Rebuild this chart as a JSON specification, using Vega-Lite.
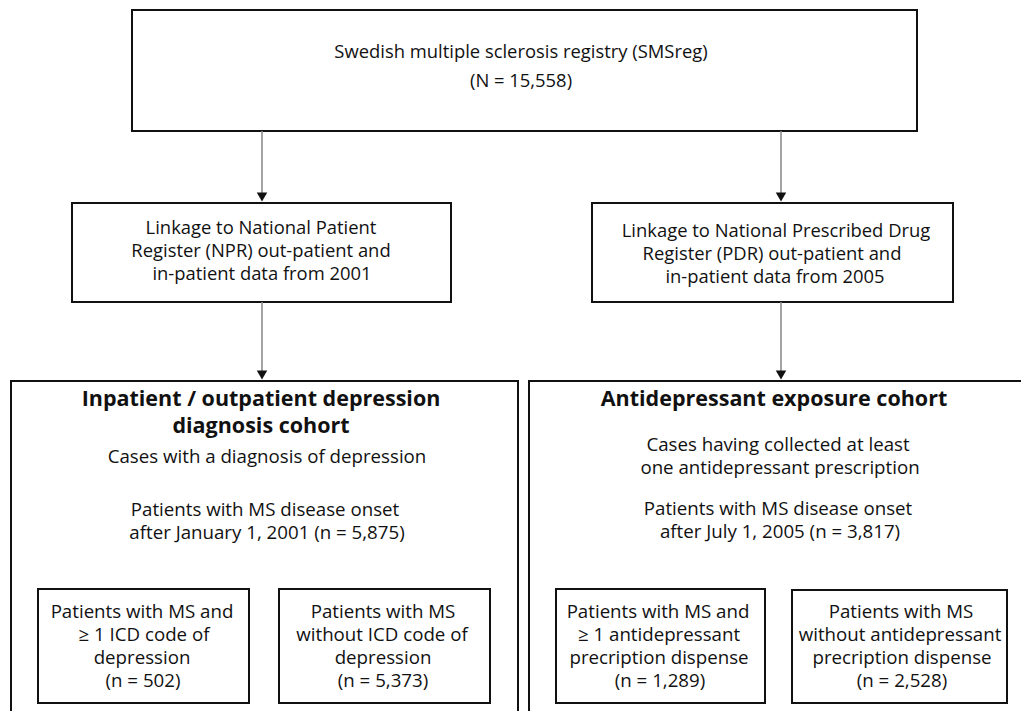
{
  "$schema": "https://vega.github.io/schema/vega-lite/v6.json",
  "autosize": {"type": "fit", "contains": "padding"},
  "width": 1021,
  "height": 711,
  "padding": 0,
  "background": "white",
  "config": {"view": {"stroke": null}, "font": "Open Sans"},
  "datasets": {
    "boxes": [
      {"id": "top", "x1": 132, "x2": 917, "y1": 10, "y2": 131},
      {"id": "npr", "x1": 72, "x2": 451, "y1": 203, "y2": 302},
      {"id": "pdr", "x1": 592, "x2": 953, "y1": 203, "y2": 302},
      {"id": "dep", "x1": 11, "x2": 518, "y1": 381, "y2": 730},
      {"id": "ad", "x1": 529, "x2": 1040, "y1": 381, "y2": 730},
      {"id": "s1", "x1": 38, "x2": 249, "y1": 589, "y2": 703},
      {"id": "s2", "x1": 279, "x2": 490, "y1": 589, "y2": 703},
      {"id": "s3", "x1": 556, "x2": 765, "y1": 589, "y2": 703},
      {"id": "s4", "x1": 792, "x2": 1007, "y1": 590, "y2": 703}
    ],
    "arrows": [
      {"x": 262, "y1": 131, "y2": 196, "tip": 197},
      {"x": 781, "y1": 131, "y2": 196, "tip": 197},
      {"x": 262, "y1": 302, "y2": 374, "tip": 375},
      {"x": 781, "y1": 302, "y2": 374, "tip": 375}
    ],
    "lines": [
      {"x": 521, "y": 52, "t": "Swedish multiple sclerosis registry (SMSreg)", "w": "small"},
      {"x": 521, "y": 81, "t": "(N = 15,558)", "w": "small"},
      {"x": 261, "y": 228, "t": "Linkage to National Patient", "w": "small"},
      {"x": 261, "y": 251, "t": "Register (NPR) out-patient and", "w": "small"},
      {"x": 262, "y": 274, "t": "in-patient data from 2001", "w": "small"},
      {"x": 776, "y": 231, "t": "Linkage to National Prescribed Drug", "w": "small"},
      {"x": 772, "y": 254, "t": "Register (PDR) out-patient and", "w": "small"},
      {"x": 775, "y": 277, "t": "in-patient data from 2005", "w": "small"},
      {"x": 261, "y": 400, "t": "Inpatient / outpatient depression", "w": "bold"},
      {"x": 261, "y": 427, "t": "diagnosis cohort", "w": "bold"},
      {"x": 267, "y": 457, "t": "Cases with a diagnosis of depression", "w": "normal"},
      {"x": 265, "y": 510, "t": "Patients with MS disease onset", "w": "normal"},
      {"x": 267, "y": 533, "t": "after January 1, 2001 (n = 5,875)", "w": "normal"},
      {"x": 774, "y": 400, "t": "Antidepressant exposure cohort", "w": "bold"},
      {"x": 778, "y": 445, "t": "Cases having collected at least", "w": "normal"},
      {"x": 780, "y": 468, "t": "one antidepressant prescription", "w": "normal"},
      {"x": 778, "y": 509, "t": "Patients with MS disease onset", "w": "normal"},
      {"x": 780, "y": 532, "t": "after July 1, 2005 (n = 3,817)", "w": "normal"},
      {"x": 142, "y": 612, "t": "Patients with MS and", "w": "normal"},
      {"x": 144, "y": 635, "t": "≥ 1 ICD code of", "w": "normal"},
      {"x": 142, "y": 658, "t": "depression", "w": "normal"},
      {"x": 143, "y": 681, "t": "(n = 502)", "w": "normal"},
      {"x": 383, "y": 612, "t": "Patients with MS", "w": "normal"},
      {"x": 382, "y": 635, "t": "without ICD code of", "w": "normal"},
      {"x": 383, "y": 658, "t": "depression", "w": "normal"},
      {"x": 383, "y": 681, "t": "(n = 5,373)", "w": "normal"},
      {"x": 658, "y": 612, "t": "Patients with MS and", "w": "normal"},
      {"x": 659, "y": 635, "t": "≥ 1 antidepressant", "w": "normal"},
      {"x": 659, "y": 658, "t": "precription dispense", "w": "normal"},
      {"x": 660, "y": 681, "t": "(n = 1,289)", "w": "normal"},
      {"x": 901, "y": 612, "t": "Patients with MS", "w": "normal"},
      {"x": 900, "y": 635, "t": "without antidepressant", "w": "normal"},
      {"x": 902, "y": 658, "t": "precription dispense", "w": "normal"},
      {"x": 902, "y": 681, "t": "(n = 2,528)", "w": "normal"}
    ]
  },
  "layer": [
    {
      "data": {"name": "boxes"},
      "mark": {"type": "rect", "fill": "white", "stroke": "#111111", "strokeWidth": 2, "clip": true},
      "encoding": {
        "x": {"field": "x1", "type": "quantitative", "scale": {"domain": [0, 1021], "nice": false, "zero": false}, "axis": null},
        "x2": {"field": "x2"},
        "y": {"field": "y1", "type": "quantitative", "scale": {"domain": [0, 711], "reverse": true, "nice": false, "zero": false}, "axis": null},
        "y2": {"field": "y2"}
      }
    },
    {
      "data": {"name": "arrows"},
      "mark": {"type": "rule", "stroke": "#8c8c8c", "strokeWidth": 1.6},
      "encoding": {
        "x": {"field": "x", "type": "quantitative"},
        "y": {"field": "y1", "type": "quantitative"},
        "y2": {"field": "y2"}
      }
    },
    {
      "data": {"name": "arrows"},
      "mark": {"type": "point", "shape": "triangle-down", "filled": true, "fill": "#111111", "opacity": 1, "size": 110, "strokeWidth": 0},
      "encoding": {
        "x": {"field": "x", "type": "quantitative"},
        "y": {"field": "tip", "type": "quantitative"}
      }
    },
    {
      "data": {"name": "lines"},
      "transform": [{"filter": "datum.w === 'normal'"}],
      "mark": {"type": "text", "font": "Open Sans", "fontSize": 18.7, "fill": "#111111", "align": "center", "baseline": "middle"},
      "encoding": {
        "x": {"field": "x", "type": "quantitative"},
        "y": {"field": "y", "type": "quantitative"},
        "text": {"field": "t"}
      }
    },
    {
      "data": {"name": "lines"},
      "transform": [{"filter": "datum.w === 'small'"}],
      "mark": {"type": "text", "font": "Open Sans", "fontSize": 18.4, "fill": "#111111", "align": "center", "baseline": "middle"},
      "encoding": {
        "x": {"field": "x", "type": "quantitative"},
        "y": {"field": "y", "type": "quantitative"},
        "text": {"field": "t"}
      }
    },
    {
      "data": {"name": "lines"},
      "transform": [{"filter": "datum.w === 'bold'"}],
      "mark": {"type": "text", "font": "Open Sans", "fontSize": 21.5, "fontWeight": "bold", "fill": "#111111", "align": "center", "baseline": "middle"},
      "encoding": {
        "x": {"field": "x", "type": "quantitative"},
        "y": {"field": "y", "type": "quantitative"},
        "text": {"field": "t"}
      }
    }
  ]
}
